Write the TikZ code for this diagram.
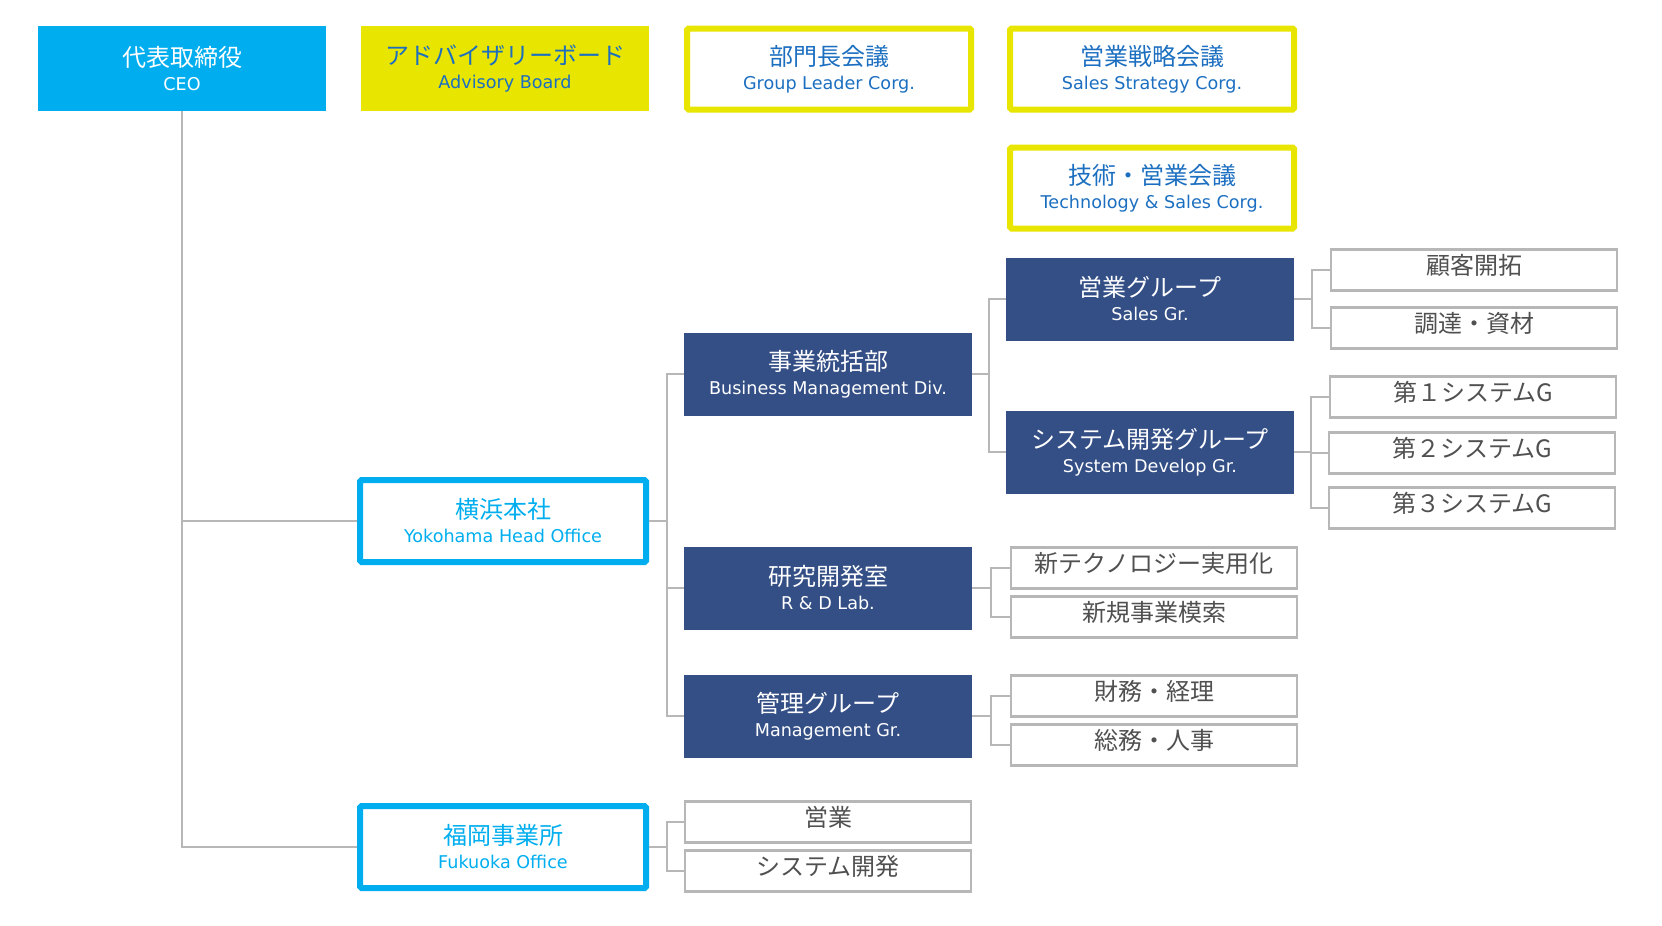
\documentclass[tikz,border=0pt]{standalone}
\usepackage{fontspec}
\setmainfont{Noto Sans CJK JP}
\newfontfamily\latinfont{DejaVu Sans}
\usetikzlibrary{positioning,calc}
\definecolor{ceocyan}{HTML}{00AEEF}
\definecolor{boardyellow}{HTML}{E8E500}
\definecolor{corgblue}{HTML}{1C6FC0}
\definecolor{divnavy}{HTML}{344F86}
\definecolor{linegray}{HTML}{B7B7B7}
\definecolor{textgray}{HTML}{505050}
\newcommand{\en}{\latinfont\fontsize{17.6}{24}\selectfont}
\tikzset{
  %Define base style for boxes
  orgbox/.style={
    rectangle,
    inner sep=0pt,
    minimum width=288pt,
    minimum height=85pt,
    align=center,
    font=\fontsize{24}{24}\selectfont},
  %Filled boxes
  ceobox/.style={orgbox, fill=ceocyan, text=white},
  boardbox/.style={orgbox, fill=boardyellow, text=corgblue},
  divbox/.style={orgbox, fill=divnavy, text=white, minimum height=83pt},
  %Framed boxes
  corgbox/.style={orgbox, draw=boardyellow, line width=6pt, rounded corners=1.5pt,
    minimum width=284pt, minimum height=81pt, text=corgblue},
  officebox/.style={orgbox, draw=ceocyan, line width=6pt, rounded corners=1.5pt,
    minimum width=286pt, minimum height=82pt, text=ceocyan},
  leaf/.style={orgbox, draw=linegray, line width=2.5pt, fill=white,
    minimum width=286pt, minimum height=41pt, text=textgray,
    text height=20pt, text depth=11pt},
  % Define connector style
  conn/.style={draw=linegray, line width=2pt}
}
\begin{document}
\begin{tikzpicture}[x=1pt,y=-1pt]
  \useasboundingbox (0,0) rectangle (1662,926);
  % top row
  \node[ceobox] (ceo) at (182,68.5) {代表取締役\\\en CEO};
  \node[boardbox] (board) at (505,68.5) {アドバイザリーボード\\\en Advisory Board};
  \node[corgbox] (leaders) at (829,69) {部門長会議\\\en Group Leader Corg.};
  \node[corgbox] (strategy) at (1152,69) {営業戦略会議\\\en Sales Strategy Corg.};
  \node[corgbox] (techsales) at (1152,188) {技術・営業会議\\\en Technology \& Sales Corg.};
  % offices
  \node[officebox] (yoko) at (503,521) {横浜本社\\\en Yokohama Head Office};
  \node[officebox] (fuku) at (503,847) {福岡事業所\\\en Fukuoka Office};
  % divisions
  \node[divbox] (biz) at (828,374) {事業統括部\\\en Business Management Div.};
  \node[divbox] (rnd) at (828,588) {研究開発室\\\en R \& D Lab.};
  \node[divbox] (mgmt) at (828,716) {管理グループ\\\en Management Gr.};
  \node[divbox] (sales) at (1150,299) {営業グループ\\\en Sales Gr.};
  \node[divbox] (sysdev) at (1150,452) {システム開発グループ\\\en System Develop Gr.};
  % sections
  \node[leaf] (kokyaku) at (1474,270) {顧客開拓};
  \node[leaf] (chotatsu) at (1474,328) {調達・資材};
  \node[leaf] (sys1) at (1473,397) {第１システムG};
  \node[leaf] (sys2) at (1472,453) {第２システムG};
  \node[leaf] (sys3) at (1472,508) {第３システムG};
  \node[leaf] (newtech) at (1154,568) {新テクノロジー実用化};
  \node[leaf] (newbiz) at (1154,617) {新規事業模索};
  \node[leaf] (finance) at (1154,696) {財務・経理};
  \node[leaf] (general) at (1154,745) {総務・人事};
  \node[leaf] (fsales) at (828,822) {営業};
  \node[leaf] (fsys) at (828,871) {システム開発};
  % connectors
  \foreach \o in {yoko,fuku}
    \draw[conn] (ceo.south) |- (\o.west);
  \foreach \d in {biz,rnd,mgmt}
    \draw[conn] (yoko.east) -- ++(18,0) |- (\d.west);
  \foreach \g in {sales,sysdev}
    \draw[conn] (biz.east) -- ++(17,0) |- (\g.west);
  \foreach \s in {kokyaku,chotatsu}
    \draw[conn] (sales.east) -- ++(18,0) |- (\s.west);
  \foreach \s in {sys1,sys2,sys3}
    \draw[conn] (sysdev.east) -- ++(17,0) |- (\s.west);
  \foreach \s in {newtech,newbiz}
    \draw[conn] (rnd.east) -- ++(19,0) |- (\s.west);
  \foreach \s in {finance,general}
    \draw[conn] (mgmt.east) -- ++(19,0) |- (\s.west);
  \foreach \s in {fsales,fsys}
    \draw[conn] (fuku.east) -- ++(18,0) |- (\s.west);
\end{tikzpicture}
\end{document}
